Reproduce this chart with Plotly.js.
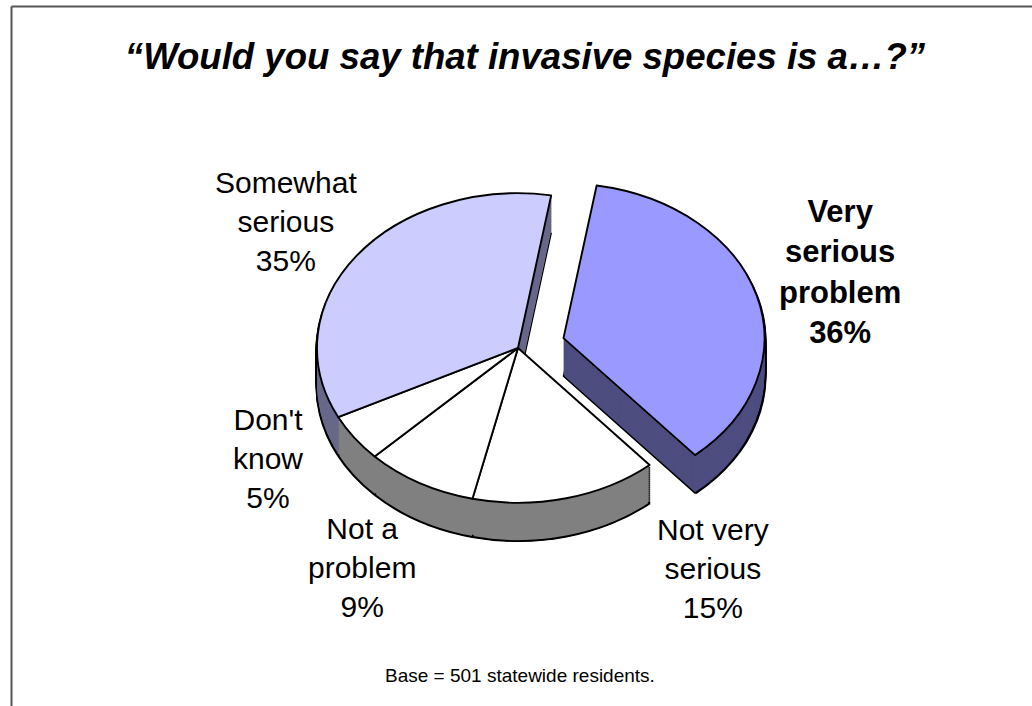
<!DOCTYPE html>
<html>
<head>
<meta charset="utf-8">
<script src="https://cdn.plot.ly/plotly-3.0.1.min.js"></script>
<style>
  html, body { margin: 0; padding: 0; background: #ffffff; }
  #chart { width: 1032px; height: 706px; }
  .pielayer path { vector-effect: non-scaling-stroke; }
</style>
</head>
<body>
<div id="chart"></div>
<script>
// Survey answers, clockwise from the top of the pie
const categories = ['Very serious problem', 'Not very serious', 'Not a problem', "Don't know", 'Somewhat serious'];
const shares = [36, 15, 9, 5, 35];
const labelLines = [['Very', 'serious', 'problem'], ['Not very', 'serious'], ['Not a', 'problem'], ["Don't", 'know'], ['Somewhat', 'serious']];
const labelBold = [true, false, false, false, false];
const faceColors = ['#9999ff', '#ffffff', '#ffffff', '#ffffff', '#ccccff'];
const wallColors = ['#4d4d80', '#808080', '#808080', '#808080', '#68688a'];
const explode = [0.235, 0, 0, 0, 0];

const titleText = '\u201CWould you say that invasive species is a\u2026?\u201D';
const noteText = 'Base = 501 statewide residents.';

// Page and pie geometry (pixels)
const W = 1032, H = 706;
const cx = 518, cy = 348;      // centre of the top face
const R = 201;                 // radius of the top face before tilting
const tilt = 0.77;             // vertical squash giving the 3-D look
const depth = 38;              // thickness of the disc on screen
const step = 2;                // spacing of the stacked layers
const maxPull = Math.max(...explode);

function domainFor(r, yOffset) {
  const half = r * (1 + maxPull);
  const cyPre = cy + yOffset / tilt;
  return {
    x: [(cx - half) / W, (cx + half) / W],
    y: [1 - (cyPre + half) / H, 1 - (cyPre - half) / H]
  };
}

function pieLayer(colors, r, yOffset, lineWidth) {
  return {
    type: 'pie',
    labels: categories,
    values: shares,
    sort: false,
    direction: 'clockwise',
    rotation: 9.5,
    pull: explode,
    textinfo: 'none',
    hoverinfo: 'skip',
    showlegend: false,
    domain: domainFor(r, yOffset),
    marker: { colors: colors, line: { color: '#000000', width: lineWidth } }
  };
}

const traces = [];
// black rim behind the disc to outline its silhouette
for (let d = depth; d >= step; d -= step) {
  traces.push(pieLayer(categories.map(() => '#000000'), R + 1.6, d, 0));
}
// side walls, stacked from the bottom up
for (let d = depth; d >= step; d -= step) {
  traces.push(pieLayer(wallColors, R, d, d === depth ? 1.4 : 0));
}
// top face
traces.push(pieLayer(faceColors, R, 0, 1.9));

// label anchor points (pixels)
const labelPos = [[840, 272], [713, 568], [362, 567], [268, 458], [286, 221]];

const annotations = categories.map((c, i) => {
  let txt = labelLines[i].concat([shares[i] + '%']).join('<br>');
  if (labelBold[i]) txt = '<b>' + txt + '</b>';
  return {
    text: txt,
    xref: 'paper', yref: 'paper',
    x: labelPos[i][0] / W, y: 1 - labelPos[i][1] / H,
    xanchor: 'center', yanchor: 'middle',
    showarrow: false,
    align: 'center',
    font: { family: 'Liberation Sans, Arial, sans-serif', size: labelBold[i] ? 31 : 30, color: '#000000' }
  };
});

annotations.push({
  text: noteText,
  xref: 'paper', yref: 'paper',
  x: 520 / W, y: 1 - 675 / H,
  xanchor: 'center', yanchor: 'middle',
  showarrow: false,
  font: { family: 'Liberation Sans, Arial, sans-serif', size: 19, color: '#000000' }
});

const layout = {
  width: W, height: H,
  margin: { l: 0, r: 0, t: 0, b: 0 },
  paper_bgcolor: '#ffffff',
  plot_bgcolor: '#ffffff',
  title: {
    text: titleText,
    x: 525 / W, xanchor: 'center', xref: 'paper',
    y: 1 - 56 / H, yanchor: 'middle', yref: 'paper',
    font: { family: 'Liberation Sans, Arial, sans-serif', size: 36.6, weight: 'bold', style: 'italic', color: '#000000' }
  },
  annotations: annotations,
  shapes: [
    { type: 'line', xref: 'paper', yref: 'paper', x0: 11.5 / W, x1: 1, y0: 1 - 6.5 / H, y1: 1 - 6.5 / H, line: { color: '#555555', width: 2 } },
    { type: 'line', xref: 'paper', yref: 'paper', x0: 11.5 / W, x1: 11.5 / W, y0: 0, y1: 1 - 6.5 / H, line: { color: '#555555', width: 2 } }
  ]
};

Plotly.newPlot('chart', traces, layout, { staticPlot: true, displayModeBar: false }).then(gd => {
  // tilt the disc so the round pie reads as a flattened 3-D one
  const layer = gd.querySelector('.pielayer');
  if (layer) {
    layer.setAttribute('transform', `translate(0 ${cy}) scale(1 ${tilt}) translate(0 ${-cy})`);
  }
});
</script>
</body>
</html>
